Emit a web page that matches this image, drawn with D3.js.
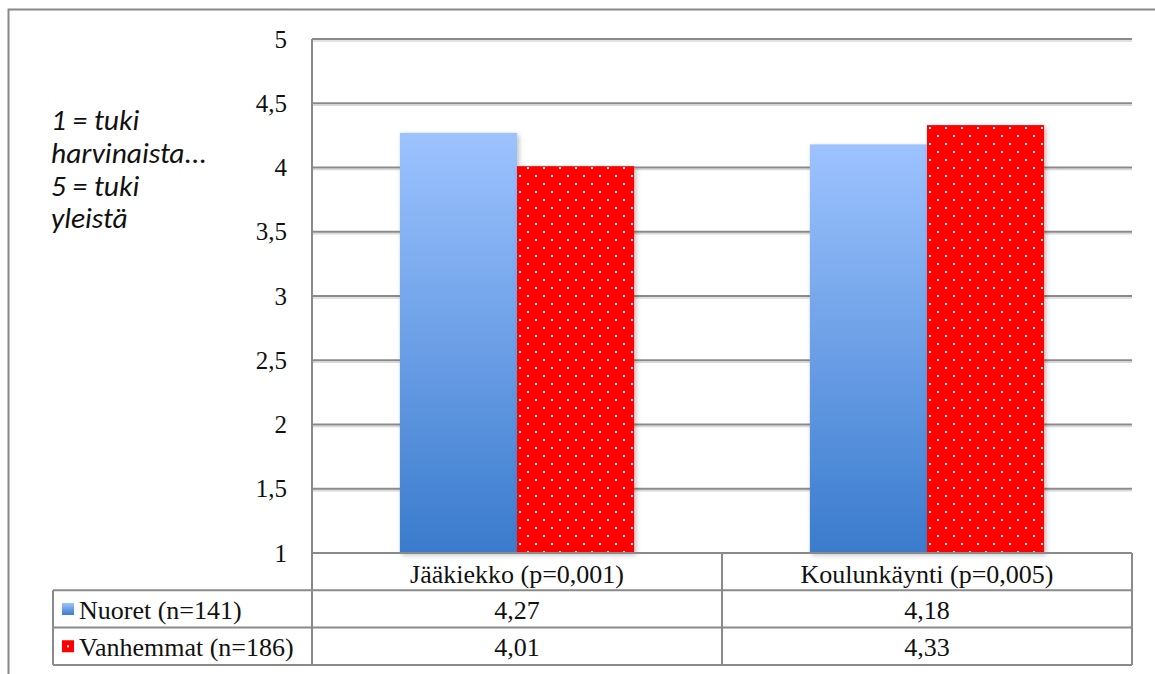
<!DOCTYPE html>
<html>
<head>
<meta charset="utf-8">
<script src="https://cdn.jsdelivr.net/npm/d3@7"></script>
<style>
  html, body { margin: 0; padding: 0; background: #fff; }
  svg { display: block; }
</style>
</head>
<body>
<svg id="chart" width="1155" height="674"></svg>
<script>
// Chart data
const categories = ["Jääkiekko (p=0,001)", "Koulunkäynti (p=0,005)"];
const seriesNames = ["Nuoret (n=141)", "Vanhemmat (n=186)"];
const nuoret = [4.27, 4.18];
const vanhemmat = [4.01, 4.33];
const tickValues = [1, 1.5, 2, 2.5, 3, 3.5, 4, 4.5, 5];
const noteLines = ["1 = tuki", "harvinaista...", "5 = tuki", "yleistä"];

const series = [nuoret, vanhemmat];
const fmt = v => String(v).replace(".", ",");
const SERIF = '"Liberation Serif", "Times New Roman", serif';
const NOTE = 'Carlito, Lato, sans-serif';

const svg = d3.select("#chart");
const defs = svg.append("defs");

// Blue vertical gradient
const grad = defs.append("linearGradient").attr("id", "blueGrad")
  .attr("x1", 0).attr("y1", 0).attr("x2", 0).attr("y2", 1);
grad.append("stop").attr("offset", "0%").attr("stop-color", "#9dc3ff");
grad.append("stop").attr("offset", "100%").attr("stop-color", "#3a7bcd");

// Red dotted pattern
const pat = defs.append("pattern").attr("id", "redDots")
  .attr("patternUnits", "userSpaceOnUse").attr("width", 16).attr("height", 16)
  .attr("x", 4).attr("y", 4);
pat.append("rect").attr("width", 16).attr("height", 16).attr("fill", "#ff0000");
pat.append("rect").attr("x", 3).attr("y", 3).attr("width", 2).attr("height", 2).attr("fill", "#ffffff");
pat.append("rect").attr("x", 11).attr("y", 11).attr("width", 2).attr("height", 2).attr("fill", "#ffffff");

const shadow = defs.append("filter").attr("id", "shadow")
  .attr("x", "-10%").attr("y", "-10%").attr("width", "130%").attr("height", "130%");
shadow.append("feDropShadow").attr("dx", 2).attr("dy", 2).attr("stdDeviation", 2.5)
  .attr("flood-color", "#000").attr("flood-opacity", 0.25);

const fills = ["url(#blueGrad)", "url(#redDots)"];

// Outer frame
svg.append("path")
  .attr("d", "M8.5,674 L8.5,9.5 L1155,9.5")
  .attr("fill", "none").attr("stroke", "#888").attr("stroke-width", 2);

// Layout
const plotLeft = 312, plotRight = 1132, plotTop = 39, plotBottom = 553;
const tableLeft = 53, rowH = 37.3;

const y = d3.scaleLinear().domain([1, 5]).range([plotBottom, plotTop]);
const x0 = d3.scaleBand().domain(categories).range([plotLeft, plotRight]).paddingInner(0).paddingOuter(0);
const x1 = d3.scaleBand().domain(seriesNames).range([0, x0.bandwidth()]).paddingInner(0).paddingOuter(0.75);

// Gridlines
const grid = svg.append("g");
grid.selectAll("line.shadow").data(tickValues.filter(t => t > 1)).join("line")
  .attr("x1", plotLeft).attr("x2", plotRight)
  .attr("y1", d => y(d) + 2).attr("y2", d => y(d) + 2)
  .attr("stroke", "#d8d8d8").attr("stroke-width", 1.5);
grid.selectAll("line.main").data(tickValues.filter(t => t > 1)).join("line")
  .attr("x1", plotLeft).attr("x2", plotRight)
  .attr("y1", d => y(d)).attr("y2", d => y(d))
  .attr("stroke", "#8a8a8a").attr("stroke-width", 2);

// Y axis labels
const yAxis = d3.axisLeft(y).tickValues(tickValues).tickSize(0).tickPadding(25).tickFormat(fmt);
const ax = svg.append("g").attr("transform", `translate(${plotLeft},0)`).call(yAxis);
ax.attr("font-family", null);
ax.select(".domain").remove();
ax.selectAll("text")
  .style("font-family", SERIF).style("font-size", "25px")
  .attr("fill", "#111");

// Vertical axis line
svg.append("line").attr("x1", plotLeft).attr("x2", plotLeft)
  .attr("y1", plotTop).attr("y2", plotBottom + rowH * 3)
  .attr("stroke", "#8a8a8a").attr("stroke-width", 2);

// Bars
const groups = svg.append("g").selectAll("g").data(categories).join("g")
  .attr("transform", d => `translate(${x0(d)},0)`);
groups.selectAll("rect")
  .data((c, ci) => seriesNames.map((s, si) => ({ s, si, v: series[si][ci] })))
  .join("rect")
  .attr("x", d => x1(d.s))
  .attr("y", d => y(d.v))
  .attr("width", x1.bandwidth())
  .attr("height", d => y(1) - y(d.v))
  .attr("fill", d => fills[d.si])
  .attr("filter", "url(#shadow)");

// Data table
const tbl = svg.append("g");
const lineColor = "#8a8a8a";
const rowsY = [plotBottom, plotBottom + rowH, plotBottom + 2 * rowH, plotBottom + 3 * rowH];
tbl.append("line").attr("x1", plotLeft).attr("x2", plotRight).attr("y1", rowsY[0]).attr("y2", rowsY[0])
  .attr("stroke", lineColor).attr("stroke-width", 2);
[1, 2, 3].forEach(i => {
  tbl.append("line").attr("x1", tableLeft).attr("x2", plotRight).attr("y1", rowsY[i]).attr("y2", rowsY[i])
    .attr("stroke", lineColor).attr("stroke-width", 2);
});
tbl.append("line").attr("x1", tableLeft).attr("x2", tableLeft).attr("y1", rowsY[1]).attr("y2", rowsY[3])
  .attr("stroke", lineColor).attr("stroke-width", 2);
[x0(categories[1]), plotRight].forEach(xx => {
  tbl.append("line").attr("x1", xx).attr("x2", xx).attr("y1", rowsY[0]).attr("y2", rowsY[3])
    .attr("stroke", lineColor).attr("stroke-width", 2);
});

const cellText = sel => sel
  .style("font-family", SERIF).style("font-size", "26px")
  .attr("fill", "#111");

// category header row
tbl.selectAll("text.cat").data(categories).join("text")
  .attr("x", d => x0(d) + x0.bandwidth() / 2)
  .attr("y", rowsY[0] + rowH / 2 + 11)
  .attr("text-anchor", "middle")
  .call(cellText)
  .text(d => d);

// series rows
seriesNames.forEach((name, si) => {
  const cy = rowsY[si + 1] + rowH / 2;
  tbl.append("rect").attr("x", tableLeft + 9).attr("y", cy - 6).attr("width", 12).attr("height", 12)
    .attr("fill", si === 0 ? "url(#blueGrad)" : "#ff0000");
  if (si === 1) {
    tbl.append("rect").attr("x", tableLeft + 14).attr("y", cy - 1).attr("width", 2).attr("height", 2).attr("fill", "#fff");
  }
  tbl.append("text").attr("x", tableLeft + 26).attr("y", cy + 10)
    .call(cellText)
    .text(name);
  tbl.selectAll(null).data(categories).join("text")
    .attr("x", d => x0(d) + x0.bandwidth() / 2)
    .attr("y", cy + 10)
    .attr("text-anchor", "middle")
    .call(cellText)
    .text((d, ci) => fmt(series[si][ci]));
});

// Scale note on the left
svg.append("g").selectAll("text").data(noteLines).join("text")
  .attr("x", 51).attr("y", (d, i) => 130 + i * 32.8)
  .style("font-family", NOTE).style("font-style", "italic").style("font-size", "29.5px")
  .attr("fill", "#111")
  .text(d => d);
</script>
</body>
</html>
